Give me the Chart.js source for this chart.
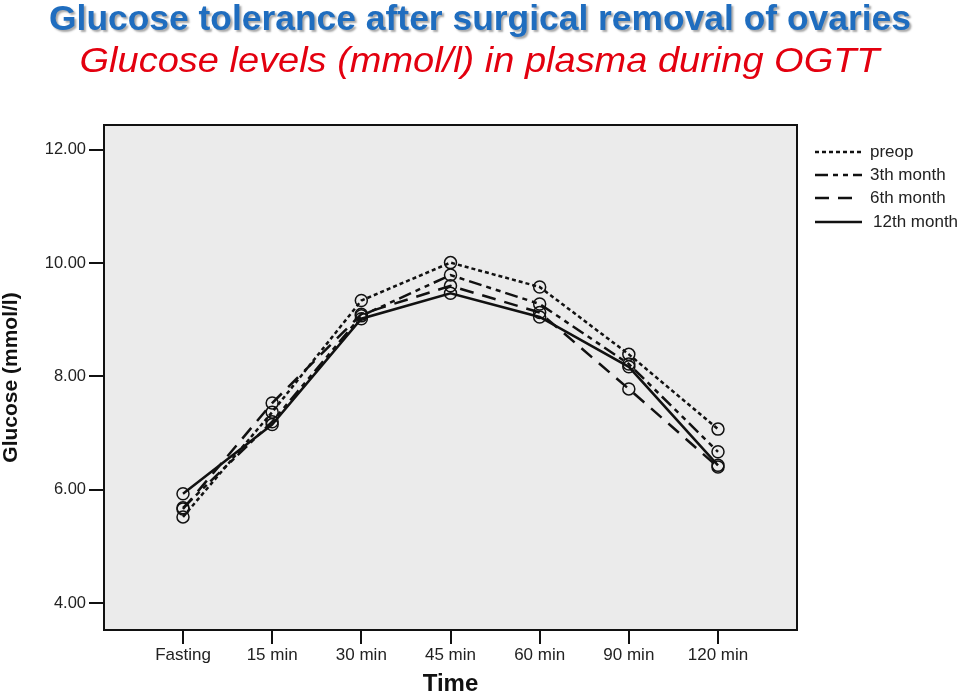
<!DOCTYPE html>
<html><head><meta charset="utf-8">
<script src="https://cdn.jsdelivr.net/npm/chart.js@4"></script>
<style>
html,body{margin:0;padding:0;background:#fff;}
#wrap{position:relative;width:960px;height:693px;overflow:hidden;}
canvas{position:absolute;left:0;top:0;}
.t{position:absolute;left:0;width:960px;text-align:center;white-space:nowrap;}
.t span{display:inline-block;transform-origin:50% 50%;}
#t1{top:-2px;font:bold 35px "Liberation Sans",Arial,sans-serif;color:#1f6dbf;text-shadow:2px 2px 2px rgba(0,0,0,0.35);}
#t2{top:40px;font:italic 35px "Liberation Sans",Arial,sans-serif;color:#e3000f;}
</style></head>
<body><div id="wrap">
<canvas id="c" width="960" height="693"></canvas>
<div class="t" id="t1"><span>Glucose tolerance after surgical removal of ovaries</span></div>
<div class="t" id="t2"><span>Glucose levels (mmol/l) in plasma during OGTT</span></div>
</div>
<script>
const timeLabels = ["Fasting","15 min","30 min","45 min","60 min","90 min","120 min"];
const seriesNames = ["preop","3th month","6th month","12th month"];
const preop   = [5.52, 7.37, 9.34, 10.01, 9.58, 8.39, 7.07];
const month3  = [5.68, 7.20, 9.07, 9.79, 9.28, 8.22, 6.67];
const month6  = [5.66, 7.53, 9.10, 9.60, 9.13, 7.78, 6.40];
const month12 = [5.93, 7.15, 9.02, 9.47, 9.05, 8.17, 6.43];
const yTicks = [4, 6, 8, 10, 12];

function fit(id, w){const s=document.querySelector('#'+id+' span');const k=w/s.getBoundingClientRect().width;s.style.transform='scaleX('+k+')';}
fit('t1', 862); fit('t2', 800);

const FONT = '"Liberation Sans", Arial, sans-serif';
const dashes = [[4,3],[13,5,5,5,5,5],[14,9],[]];
const allSeries = [preop, month3, month6, month12];
const datasets = allSeries.map((arr,i)=>({
  label: seriesNames[i],
  data: arr.map((v,j)=>({x:j,y:v})),
  borderColor:'#111', borderWidth:2.5, borderDash:dashes[i],
  pointStyle:'circle', pointRadius:6, pointBorderWidth:1.5,
  pointBackgroundColor:'rgba(0,0,0,0)', pointBorderColor:'#111',
  tension:0, fill:false
}));

const bgPlugin = {
  id:'bg',
  beforeDraw(chart){const {ctx,chartArea:a}=chart;ctx.save();ctx.fillStyle='#ebebeb';ctx.fillRect(a.left,a.top,a.right-a.left,a.bottom-a.top);ctx.restore();},
  afterDraw(chart){
    const {ctx,chartArea:a}=chart;ctx.save();ctx.strokeStyle='#111';ctx.lineWidth=2;
    ctx.strokeRect(a.left,a.top,a.right-a.left,a.bottom-a.top);
    const ys=[152,175,198,222];
    const lens=[47,47,42,47];
    ctx.font='17px '+FONT;ctx.textBaseline='middle';
    chart.data.datasets.forEach((d,i)=>{
      ctx.beginPath();ctx.setLineDash(d.borderDash);ctx.lineWidth=2.4;
      ctx.moveTo(815,ys[i]);ctx.lineTo(815+lens[i],ys[i]);ctx.stroke();
      ctx.setLineDash([]);ctx.fillStyle='#222';
      ctx.fillText(d.label, i===3?873:870, ys[i]);
    });
    ctx.restore();
  }
};

new Chart(document.getElementById('c'),{
  type:'line',
  data:{datasets},
  plugins:[bgPlugin],
  options:{
    responsive:false, animation:false,
    layout:{padding:{left:0,right:163,top:125,bottom:0}},
    plugins:{legend:{display:false},title:{display:false},tooltip:{enabled:false}},
    scales:{
      x:{type:'linear',min:-0.886,max:6.886,
        afterFit(s){s.height=63;},
        afterBuildTicks(s){s.ticks=timeLabels.map((_,i)=>({value:i}));},
        ticks:{callback:(v)=>timeLabels[v], font:{size:17,family:FONT}, color:'#222', padding:1, maxRotation:0, autoSkip:false},
        grid:{drawOnChartArea:false, drawTicks:true, tickLength:14, color:'#111', lineWidth:2},
        border:{display:true,color:'#111',width:2},
        title:{display:true,text:'Time',font:{size:24,weight:'bold',family:FONT},color:'#111',padding:{top:0,bottom:-6}}
      },
      y:{type:'linear',min:3.523,max:12.44,
        afterFit(s){s.width=104;},
        afterBuildTicks(s){s.ticks=yTicks.map(v=>({value:v}));},
        ticks:{callback:(v)=>Number(v).toFixed(2), font:{size:16.5,family:FONT}, color:'#222', padding:3},
        grid:{drawOnChartArea:false, drawTicks:true, tickLength:15, color:'#111', lineWidth:2},
        border:{display:true,color:'#111',width:2},
        title:{display:true,text:'Glucose (mmol/l)',font:{size:21,weight:'bold',family:FONT},color:'#111',padding:{top:-1,bottom:0}}
      }
    }
  }
});
</script>
</body></html>
